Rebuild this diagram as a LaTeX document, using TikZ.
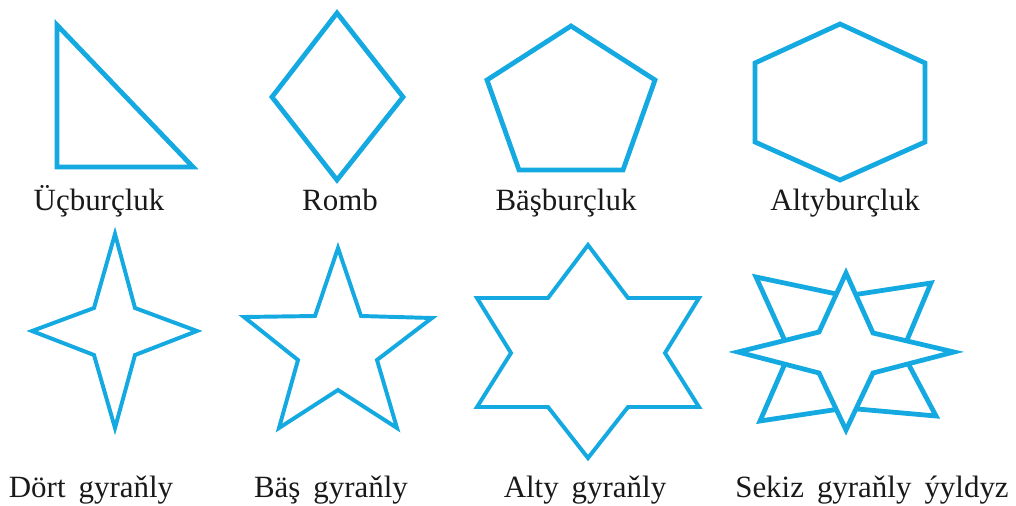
\documentclass[tikz,border=0pt]{standalone}
\usepackage{fontspec}
\setmainfont{Liberation Serif}
\usepackage{xcolor}
\definecolor{shapeblue}{HTML}{14A9E1}
\usepackage{tikz}
\usetikzlibrary{positioning}
\tikzset{
  figline/.style={draw=shapeblue,line width=3.4pt,line join=miter},
  starline/.style={draw=shapeblue,line width=2.8pt,line join=miter},
  figlabel/.style={anchor=base,inner sep=0pt,font=\fontsize{22}{26}\selectfont,text=black!90}
}
\newcommand{\wsp}{\hspace{0.42em}}

\begin{document}
\begin{tikzpicture}[x=0.025cm,y=-0.025cm]
\useasboundingbox (0,0) rectangle (1016,505);
% top row
\draw[figline] (57,25) -- (57,167) -- (193,167) -- cycle;
\draw[figline] (337,13) -- (403,97) -- (337,180) -- (272,97) -- cycle;
\draw[figline] (571,26) -- (655,80) -- (623,170) -- (519,170) -- (487,80) -- cycle;
\draw[figline] (840,24) -- (925,63) -- (925,142) -- (840,180) -- (755,142) -- (755,63) -- cycle;
\node[figlabel] (tri) at (99,210) {Üçburçluk};
\node[figlabel] (romb) at (340,210) {Romb};
\node[figlabel] (pent) at (566,210) {Bäşburçluk};
\node[figlabel] (hex) at (845,210) {Altyburçluk};
% bottom row
\draw[starline] (115,234) -- (135,308) -- (197,331) -- (135,355) -- (115,428)
  -- (94,355) -- (32,331) -- (94,308) -- cycle;
\draw[starline] (338,248) -- (361,316) -- (432,318) -- (377,360) -- (397,428)
  -- (338,390) -- (279,428) -- (298,360) -- (244,317) -- (315,316) -- cycle;
\draw[starline] (588,245) -- (628,298) -- (699,298) -- (665,353) -- (699,407)
  -- (628,407) -- (588,458) -- (548,407) -- (477,407) -- (511,353) -- (477,298)
  -- (548,298) -- cycle;
\draw[figline] (756,277) -- (846,296) -- (931,283) -- (902,352) -- (936,416)
  -- (846,408) -- (760,421) -- (790,352) -- cycle;
\draw[figline,fill=white] (846,273) -- (873,333) -- (954,352) -- (873,373) -- (846,430)
  -- (819,373) -- (738,352) -- (819,332) -- cycle;
\node[figlabel] (four) at (91,497) {Dört\wsp gyraňly};
\node[figlabel] (five) at (331,497) {Bäş\wsp gyraňly};
\node[figlabel] (six) at (585,497) {Alty\wsp gyraňly};
\node[figlabel] (eight) at (872,497) {Sekiz\wsp gyraňly\wsp ýyldyz};
\end{tikzpicture}
\end{document}
